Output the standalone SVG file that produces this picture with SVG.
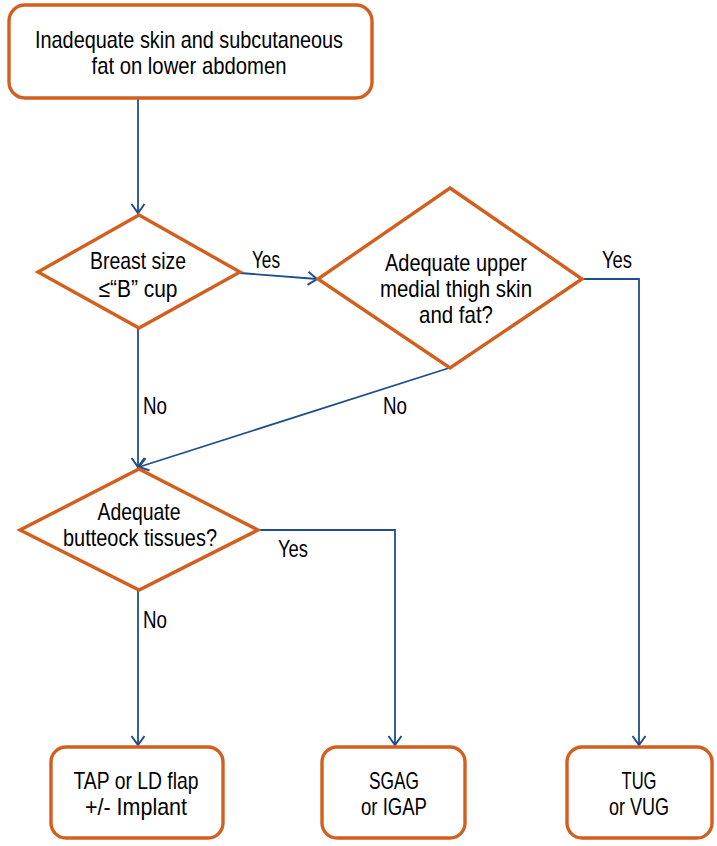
<svg xmlns="http://www.w3.org/2000/svg" width="717" height="846" viewBox="0 0 717 846">
<defs>
<marker id="arr" markerUnits="userSpaceOnUse" markerWidth="16" markerHeight="16" viewBox="-1 -8 12 16" refX="10" refY="0" orient="auto">
<path d="M1,-6.5 L10,0 L1,6.5" fill="none" stroke="#1f4e8c" stroke-width="2"/>
</marker>
<style>
.box{fill:#fff;stroke:#d35f1e;stroke-width:3.4}
.con{fill:none;stroke:#1f4e8c;stroke-width:1.8}
.t{font-family:"Liberation Sans",Arial,sans-serif;font-size:24px;fill:#000;text-anchor:middle}
.l{font-family:"Liberation Sans",Arial,sans-serif;font-size:24px;fill:#000}
</style>
</defs>
<rect width="717" height="846" fill="#fff"/>
<g id="connectors">
<path class="con" d="M138,98 L138,213" marker-end="url(#arr)"/>
<path class="con" d="M240,273 L317,279" marker-end="url(#arr)"/>
<path class="con" d="M582,279 L639,279 L639,745" marker-end="url(#arr)"/>
<path class="con" d="M138,328 L138,467" marker-end="url(#arr)"/>
<path class="con" d="M449,368 L139,467" marker-end="url(#arr)"/>
<path class="con" d="M258,530 L395,530 L395,745" marker-end="url(#arr)"/>
<path class="con" d="M138,591 L138,745" marker-end="url(#arr)"/>
</g>
<g id="labels">
<text class="l" x="252" y="268" textLength="28" lengthAdjust="spacingAndGlyphs">Yes</text>
<text class="l" x="602" y="268" textLength="30" lengthAdjust="spacingAndGlyphs">Yes</text>
<text class="l" x="278" y="557" textLength="30" lengthAdjust="spacingAndGlyphs">Yes</text>
<text class="l" x="143" y="414" textLength="24" lengthAdjust="spacingAndGlyphs">No</text>
<text class="l" x="383" y="414" textLength="24" lengthAdjust="spacingAndGlyphs">No</text>
<text class="l" x="143" y="628" textLength="24" lengthAdjust="spacingAndGlyphs">No</text>
</g>
<g id="start">
<rect class="box" x="9" y="5" width="363" height="93" rx="16"/>
<text class="t" x="189" y="48" textLength="308" lengthAdjust="spacingAndGlyphs">Inadequate skin and subcutaneous</text>
<text class="t" x="189" y="74" textLength="195" lengthAdjust="spacingAndGlyphs">fat on lower abdomen</text>
</g>
<g id="breast">
<polygon class="box" points="139,215 240,272 139,328 38,272"/>
<text class="t" x="138" y="269" textLength="96" lengthAdjust="spacingAndGlyphs">Breast size</text>
<text class="t" x="138" y="297" textLength="79" lengthAdjust="spacingAndGlyphs">≤“B” cup</text>
</g>
<g id="thigh">
<polygon class="box" points="450,188 582,279 450,368 318,279"/>
<text class="t" x="456" y="271" textLength="142" lengthAdjust="spacingAndGlyphs">Adequate upper</text>
<text class="t" x="456" y="297" textLength="152" lengthAdjust="spacingAndGlyphs">medial thigh skin</text>
<text class="t" x="456" y="323" textLength="74" lengthAdjust="spacingAndGlyphs">and fat?</text>
</g>
<g id="buttock">
<polygon class="box" points="139,469 258,530 139,590 20,530"/>
<text class="t" x="139" y="520" textLength="83" lengthAdjust="spacingAndGlyphs">Adequate</text>
<text class="t" x="140" y="546" textLength="154" lengthAdjust="spacingAndGlyphs">butteock tissues?</text>
</g>
<g id="tap">
<rect class="box" x="51" y="747" width="172" height="91" rx="15"/>
<text class="t" x="136" y="789" textLength="125" lengthAdjust="spacingAndGlyphs">TAP or LD flap</text>
<text class="t" x="136" y="815" textLength="102" lengthAdjust="spacingAndGlyphs">+/- Implant</text>
</g>
<g id="sgag">
<rect class="box" x="322" y="747" width="143" height="91" rx="15"/>
<text class="t" x="394" y="789" textLength="50" lengthAdjust="spacingAndGlyphs">SGAG</text>
<text class="t" x="394" y="815" textLength="66" lengthAdjust="spacingAndGlyphs">or IGAP</text>
</g>
<g id="tug">
<rect class="box" x="567" y="747" width="145" height="91" rx="15"/>
<text class="t" x="639" y="789" textLength="35" lengthAdjust="spacingAndGlyphs">TUG</text>
<text class="t" x="639" y="815" textLength="60" lengthAdjust="spacingAndGlyphs">or VUG</text>
</g>
</svg>
